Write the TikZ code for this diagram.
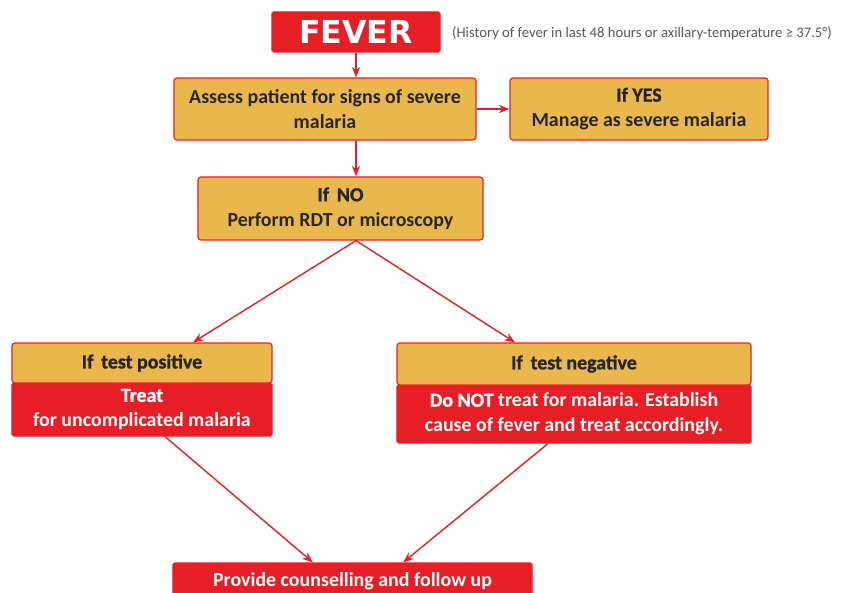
\documentclass[tikz,border=0pt]{standalone}
\usepackage{fontspec}
\setmainfont{Carlito}
\newfontfamily\heavyfont{DejaVu Sans}
\newfontfamily\headfont[FakeBold=1.2]{Carlito Bold}
\usetikzlibrary{arrows.meta, positioning}
\tikzset{>={Stealth[length=9pt,width=7pt]}}
\definecolor{mred}{RGB}{232,30,38}
\definecolor{morange}{RGB}{234,183,76}

\begin{document}
\begin{tikzpicture}[x=0.03cm, y=-0.03cm,
	ob/.style={draw=mred, line width=1pt, fill=morange, rounded corners=2.5pt, inner sep=0pt, align=center, text=black!85, font=\bfseries\fontsize{17}{21.5}\selectfont},
	rb/.style={draw=mred, fill=mred, line width=1pt, rounded corners=1.5pt, inner sep=0pt, align=center, text=white, font=\bfseries\fontsize{17}{21.5}\selectfont},
	ar/.style={->, draw=mred, line width=1.2pt}]
		\useasboundingbox (0,0) rectangle (842,593);
		\node[rb, minimum width=5.04cm, minimum height=1.2cm, font=\heavyfont\bfseries\fontsize{27}{30}\selectfont] (A0) at (356,32) {FEVER};
		\node[right, text=black!65, font=\fontsize{12.5}{14}\selectfont] (N0) at (448,33) {(History of fever in last 48 hours or axillary-temperature ≥ 37.5°)};
		\node[ob, minimum width=9.06cm, minimum height=1.86cm] (A1) at (325,109) {Assess patient for signs of severe\\malaria};
		\node[ob, minimum width=7.74cm, minimum height=1.86cm] (B1) at (639,109) {{\headfont If YES}\\Manage as severe malaria};
		\node[ob, minimum width=8.55cm, minimum height=1.89cm] (C1) at (340.5,208.5) {{\headfont If\, NO}\\Perform RDT or microscopy};
		% test results
		\node[rb, minimum width=7.8cm, minimum height=1.59cm] (D2) at (142,409.5) {{\headfont Treat}\\for uncomplicated malaria};
		\node[ob, minimum width=7.8cm, minimum height=1.2cm] (D1) at (142,363) {\headfont If\, test positive};
		\node[rb, minimum width=10.62cm, minimum height=1.74cm] (E2) at (574,414) {{\headfont Do NOT} treat for malaria. Establish\\cause of fever and treat accordingly.};
		\node[ob, minimum width=10.62cm, minimum height=1.26cm] (E1) at (574,364) {\headfont If\, test negative};
		\node[rb, minimum width=10.77cm, minimum height=1.11cm] (F1) at (352.5,581.5) {Provide counselling and follow up};
		% arrows
		\draw[ar] (A0.south) -- (A0.south |- A1.north);
		\draw[ar] (A1.east) -- (B1.west);
		\draw[ar] (A1.south -| A0) -- (C1.north -| A0);
		\draw[ar] (C1.south -| A0) -- ([xshift=1.53cm]D1.north);
		\draw[ar] (C1.south -| A0) -- ([xshift=-1.77cm]E1.north);
		\draw[ar] ([xshift=0.69cm]D2.south) -- ([xshift=-1.19cm]F1.north);
		\draw[ar] ([xshift=-0.78cm]E2.south) -- ([xshift=1.52cm]F1.north);
\end{tikzpicture}
\end{document}
